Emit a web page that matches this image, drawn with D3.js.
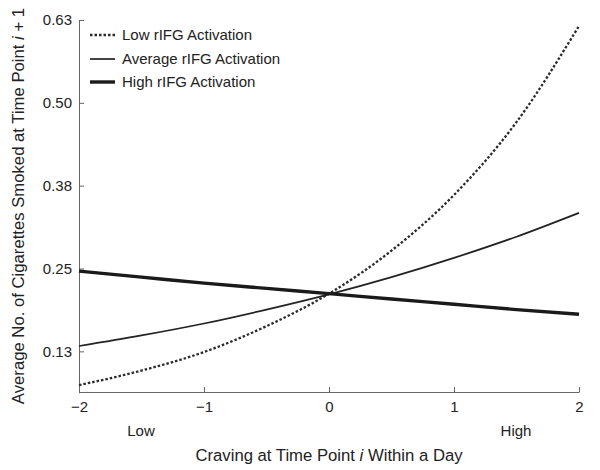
<!DOCTYPE html>
<html>
<head>
<meta charset="utf-8">
<script src="https://cdn.jsdelivr.net/npm/d3@7"></script>
<style>
  body { margin: 0; background: #fff; }
  svg { display: block; font-family: "Liberation Sans", Arial, Helvetica, sans-serif; }
  .axis path, .axis line { stroke: #666; }
  .axis text { fill: #222; font-size: 15px; }
</style>
</head>
<body>
<div id="chart"></div>
<script>
// craving (centered) at time point i
const craving = [-2, -1.5, -1, -0.5, 0, 0.5, 1, 1.5, 2];

// predicted no. of cigarettes at i + 1
const lowValues = [0.074, 0.096, 0.124, 0.163, 0.212, 0.277, 0.361, 0.471, 0.616];
const avgValues = [0.133, 0.149, 0.167, 0.188, 0.211, 0.237, 0.266, 0.298, 0.334];
const highValues = [0.246, 0.237, 0.228, 0.220, 0.212, 0.204, 0.196, 0.188, 0.181];

const seriesNames = ['Low rIFG Activation', 'Average rIFG Activation', 'High rIFG Activation'];

const yTicks = [0.125, 0.25, 0.375, 0.5, 0.625];
const yTickLabels = ['0.13', '0.25', '0.38', '0.50', '0.63'];
const xTicks = [-2, -1, 0, 1, 2];

const width = 600, height = 470;
const margin = { top: 20, right: 21, bottom: 78, left: 79 };

const svg = d3.select('#chart')
  .append('svg')
  .attr('width', width)
  .attr('height', height);

// scales
const x = d3.scaleLinear()
  .domain([-2, 2])
  .range([margin.left, width - margin.right]);

const y = d3.scaleLinear()
  .domain([0.0625, 0.625])
  .range([height - margin.bottom + 0.75, margin.top]);

// axes, ticks pointing inward
svg.append('g')
  .attr('class', 'axis')
  .attr('transform', `translate(0,${height - margin.bottom})`)
  .call(d3.axisBottom(x)
    .tickValues(xTicks)
    .tickSizeInner(-5)
    .tickSizeOuter(0)
    .tickPadding(9)
    .tickFormat(d => d3.format('d')(d).replace('-', '\u2212')));

svg.append('g')
  .attr('class', 'axis')
  .attr('transform', `translate(${margin.left},0)`)
  .call(d3.axisLeft(y)
    .tickValues(yTicks)
    .tickSizeInner(-5)
    .tickSizeOuter(0)
    .tickPadding(7)
    .tickFormat((d, i) => yTickLabels[i]));

// lines
const line = d3.line()
  .x((d, i) => x(craving[i]))
  .y(d => y(d))
  .curve(d3.curveMonotoneX);

const styles = [
  { values: lowValues, width: 2.3, dash: '2.5,2', color: '#2a2a2a' },
  { values: avgValues, width: 1.7, dash: null, color: '#222' },
  { values: highValues, width: 3.4, dash: null, color: '#1a1a1a' }
];

svg.append('g')
  .selectAll('path')
  .data(styles)
  .enter()
  .append('path')
  .attr('d', d => line(d.values))
  .attr('fill', 'none')
  .attr('stroke', d => d.color)
  .attr('stroke-width', d => d.width)
  .attr('stroke-dasharray', d => d.dash);

// legend
const legendY = [40, 64, 87];
const legend = svg.append('g')
  .selectAll('g')
  .data(styles)
  .enter()
  .append('g')
  .attr('transform', (d, i) => `translate(90,${legendY[i]})`);

legend.append('line')
  .attr('x1', 0)
  .attr('x2', 25)
  .attr('y1', -5)
  .attr('y2', -5)
  .attr('stroke', d => d.color)
  .attr('stroke-width', d => d.width)
  .attr('stroke-dasharray', d => d.dash);

legend.append('text')
  .attr('x', 32)
  .attr('font-size', 15)
  .attr('fill', '#222')
  .text((d, i) => seriesNames[i]);

// axis titles
svg.append('text')
  .attr('x', 141)
  .attr('y', 436)
  .attr('text-anchor', 'middle')
  .attr('font-size', 15)
  .attr('fill', '#222')
  .text('Low');

svg.append('text')
  .attr('x', 516)
  .attr('y', 436)
  .attr('text-anchor', 'middle')
  .attr('font-size', 15)
  .attr('fill', '#222')
  .text('High');

const xTitle = svg.append('text')
  .attr('x', 329)
  .attr('y', 461)
  .attr('text-anchor', 'middle')
  .attr('font-size', 16.7)
  .attr('fill', '#222');
xTitle.append('tspan').text('Craving at Time Point ');
xTitle.append('tspan').attr('font-style', 'italic').text('i');
xTitle.append('tspan').text(' Within a Day');

const yTitle = svg.append('text')
  .attr('transform', 'translate(24,206) rotate(-90)')
  .attr('text-anchor', 'middle')
  .attr('font-size', 16.7)
  .attr('fill', '#222');
yTitle.append('tspan').text('Average No. of Cigarettes Smoked at Time Point ');
yTitle.append('tspan').attr('font-style', 'italic').text('i');
yTitle.append('tspan').text(' + 1');
</script>
</body>
</html>
